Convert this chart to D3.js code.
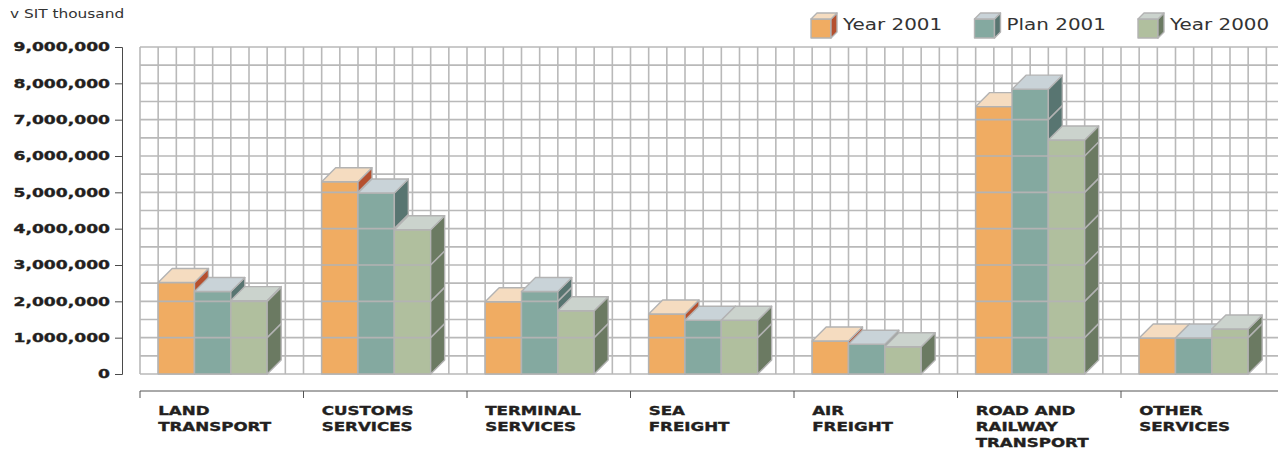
<!DOCTYPE html>
<html>
<head>
  <meta charset="utf-8">
  <title>Revenue by service</title>
  <script src="https://d3js.org/d3.v7.min.js"></script>
  <style>
    body { margin: 0; background: #fff; }
    svg text { font-family: "DejaVu Sans", sans-serif; fill: #231f20; }
    .grid line { stroke: #b9b9b9; stroke-width: 1.6px; }
    .yaxis path, .yaxis line { stroke: #4a4a4a; stroke-width: 1px; }
    .yaxis text { font-weight: bold; font-size: 12px; stroke: #231f20; stroke-width: 0.35px; }
    .cat text { font-weight: bold; font-size: 12px; stroke: #231f20; stroke-width: 0.35px; }
    .cat line { stroke: #555; stroke-width: 1px; }
    .face { stroke: #b3b3b3; stroke-width: 1.4px; stroke-linejoin: round; }
    .barline { stroke: #b3b3b3; stroke-width: 1.6px; }
  </style>
</head>
<body>
<script>
  // Data (SIT thousand)
  const categories = ["LAND\nTRANSPORT", "CUSTOMS\nSERVICES", "TERMINAL\nSERVICES",
    "SEA\nFREIGHT", "AIR\nFREIGHT", "ROAD AND\nRAILWAY\nTRANSPORT", "OTHER\nSERVICES"];
  const seriesNames = ["Year 2001", "Plan 2001", "Year 2000"];
  const year2001 = [2520000, 5290000, 1990000, 1650000, 910000, 7360000, 990000];
  const plan2001 = [2270000, 4980000, 2270000, 1480000, 820000, 7840000, 990000];
  const year2000 = [2020000, 3970000, 1740000, 1480000, 750000, 6440000, 1240000];
  const yTicks = [0, 1000000, 2000000, 3000000, 4000000, 5000000, 6000000, 7000000, 8000000, 9000000];

  const seriesValues = [year2001, plan2001, year2000];
  // front, top, side colours for each series
  const colors = [
    { front: "#f0ac62", top: "#f5dcc0", side: "#b5502f" },
    { front: "#84a9a0", top: "#c9d3d8", side: "#587571" },
    { front: "#b0bf9e", top: "#cbd3cd", side: "#6b7a62" }
  ];

  const width = 1278, height = 451;
  const plotLeft = 140, plotTop = 47, plotBottom = 374;
  const depth = 14;

  const svg = d3.select("body").append("svg")
      .attr("width", width)
      .attr("height", height);

  const y = d3.scaleLinear().domain([0, 9000000]).range([plotBottom, plotTop]);
  const x = d3.scaleBand().domain(categories).range([plotLeft, plotLeft + 7 * 163.5]);
  const cell = x.bandwidth() / 9;
  const xs = d3.scaleBand().domain(seriesNames).range([cell, 7 * cell]);

  // background grid
  const grid = svg.append("g").attr("class", "grid");
  const vx = d3.range(plotLeft, width + 1, cell);
  grid.selectAll(".v").data(vx).enter().append("line")
      .attr("x1", d => d).attr("x2", d => d)
      .attr("y1", plotTop).attr("y2", plotBottom);
  grid.selectAll(".h").data(d3.range(0, 9000001, 500000)).enter().append("line")
      .attr("x1", plotLeft).attr("x2", width)
      .attr("y1", d => y(d)).attr("y2", d => y(d));

  // y axis
  const yAxis = svg.append("g")
      .attr("class", "yaxis")
      .attr("transform", "translate(122,0)")
      .call(d3.axisLeft(y).tickValues(yTicks).tickSize(7).tickFormat(d3.format(",")));
  yAxis.selectAll("text")
      .attr("x", -12 / 1.43)
      .attr("transform", "scale(1.43,1)");

  // "v SIT thousand"
  svg.append("text")
      .attr("transform", "translate(10,18) scale(1.28,1)")
      .style("font-size", "12px")
      .style("fill", "#333")
      .text("v SIT thousand");

  // 3D bars
  const bars = svg.append("g");
  categories.forEach((cat, ci) => {
    seriesNames.forEach((s, si) => {
      const v = seriesValues[si][ci];
      const x0 = x(cat) + xs(s), x1 = x0 + xs.bandwidth();
      const top = y(v), base = y(0);
      const g = bars.append("g");
      const c = colors[si];
      g.append("rect").attr("class", "face")
          .attr("x", x0).attr("y", top)
          .attr("width", x1 - x0).attr("height", base - top)
          .attr("fill", c.front);
      g.append("polygon").attr("class", "face")
          .attr("points", [[x1, top], [x1 + depth, top - depth], [x1 + depth, base - depth], [x1, base]].join(" "))
          .attr("fill", c.side);
      g.append("polygon").attr("class", "face")
          .attr("points", [[x0, top], [x0 + depth, top - depth], [x1 + depth, top - depth], [x1, top]].join(" "))
          .attr("fill", c.top);
      // major grid lines showing through the bar
      const lines = yTicks.filter(t => t > 0 && t < v);
      g.selectAll(".f").data(lines).enter().append("line").attr("class", "barline")
          .attr("x1", x0).attr("x2", x1)
          .attr("y1", t => y(t)).attr("y2", t => y(t));
      g.selectAll(".s").data(lines).enter().append("line").attr("class", "barline")
          .attr("x1", x1).attr("x2", x1 + depth)
          .attr("y1", t => y(t)).attr("y2", t => y(t) - depth);
    });
  });

  // category axis
  const cat = svg.append("g").attr("class", "cat");
  cat.append("line")
      .attr("x1", plotLeft).attr("x2", width)
      .attr("y1", 391).attr("y2", 391);
  cat.selectAll(".tick").data(categories).enter().append("line")
      .attr("x1", d => x(d)).attr("x2", d => x(d))
      .attr("y1", 391).attr("y2", 398);
  cat.selectAll("text").data(categories).enter().append("text")
      .attr("transform", d => `translate(${x(d) + cell},415) scale(1.39,1)`)
      .each(function(d) {
        d.split("\n").forEach((line, i) => {
          d3.select(this).append("tspan")
              .attr("x", 0).attr("y", i * 16)
              .text(line);
        });
      });

  // legend
  const legend = svg.append("g");
  seriesNames.forEach((s, i) => {
    const lx = 811 + i * 163.5, ly = 19, w = 20, h = 19, d = 6;
    const c = colors[i];
    const lg = legend.append("g");
    lg.append("rect").attr("class", "face")
        .attr("x", lx).attr("y", ly).attr("width", w).attr("height", h)
        .attr("fill", c.front);
    lg.append("polygon").attr("class", "face")
        .attr("points", [[lx + w, ly], [lx + w + d, ly - d], [lx + w + d, ly + h - d], [lx + w, ly + h]].join(" "))
        .attr("fill", c.side);
    lg.append("polygon").attr("class", "face")
        .attr("points", [[lx, ly], [lx + d, ly - d], [lx + w + d, ly - d], [lx + w, ly]].join(" "))
        .attr("fill", c.top);
    lg.append("text")
        .attr("transform", `translate(${lx + 32},30) scale(1.33,1)`)
        .style("font-size", "15px")
        .style("fill", "#333")
        .text(s);
  });
</script>
</body>
</html>
